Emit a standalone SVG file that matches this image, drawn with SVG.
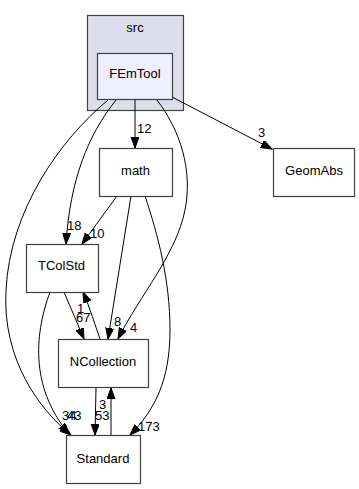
<svg xmlns="http://www.w3.org/2000/svg" width="359" height="489" viewBox="0 0 359 489">
<style>
.node rect{fill:#ffffff;stroke:#404040;stroke-width:1.2}
.lbl{font-family:"Liberation Sans",Arial,sans-serif;font-size:13px;fill:#000000;text-anchor:middle}
.el{font-family:"Liberation Sans",Arial,sans-serif;font-size:13px;fill:#000000}
.edges path{fill:none;stroke:#000000;stroke-width:1;marker-end:url(#arr)}
</style>
<defs>
<marker id="arr" markerUnits="userSpaceOnUse" markerWidth="13" markerHeight="10" refX="11" refY="4" orient="auto">
<path d="M0,0 L11,4 L0,8 z" fill="#000000" stroke="#000000" stroke-width="1"/>
</marker>
</defs>
<rect width="359" height="489" fill="#ffffff"/>
<g id="cluster_src">
<rect x="87.5" y="15.5" width="96" height="95" fill="#ddddee" stroke="#404040" stroke-width="1.2"/>
<text class="lbl" x="135" y="32">src</text>
</g>
<g class="edges" id="edges">
<path d="M135,100 L135,148"/>
<path d="M172,97 L272,149"/>
<path d="M116,100 C88,135 70,180 66,244"/>
<path d="M117,196 L82,244"/>
<path d="M157,100 C180,130 193,170 185,210 C176,255 140,295 118,339"/>
<path d="M131,196 L108,339"/>
<path d="M108,100 C60,140 10,210 6,290 C2,360 40,410 71,435"/>
<path d="M50,292 C36,330 28,385 69,434"/>
<path d="M64,292 L84,339"/>
<path d="M100,339 C95,325 90,308 83,292"/>
<path d="M96,388 L95,435"/>
<path d="M111,435 L111,388"/>
<path d="M145,196 C158,235 170,280 170,330 C170,380 155,410 130,435"/>
<text class="el" x="137" y="133">12</text>
<text class="el" x="258" y="137">3</text>
<text class="el" x="67" y="230">18</text>
<text class="el" x="90" y="238">10</text>
<text class="el" x="77" y="313">1</text>
<text class="el" x="76" y="322">67</text>
<text class="el" x="114" y="326">8</text>
<text class="el" x="130" y="332">4</text>
<text class="el" x="62" y="420">34</text>
<text class="el" x="67" y="420">43</text>
<text class="el" x="99" y="409">3</text>
<text class="el" x="95" y="420">53</text>
<text class="el" x="138" y="431">173</text>
</g>
<g id="node_FEmTool" class="node">
<rect x="97.5" y="53.5" width="75" height="46" style="fill:#eeeeff"/>
<text class="lbl" x="135" y="78">FEmTool</text>
</g>
<g id="node_math" class="node">
<rect x="99.5" y="148.5" width="73" height="48"/>
<text class="lbl" x="135.5" y="175">math</text>
</g>
<g id="node_GeomAbs" class="node">
<rect x="273.5" y="148.5" width="81" height="48"/>
<text class="lbl" x="314" y="175">GeomAbs</text>
</g>
<g id="node_TColStd" class="node">
<rect x="26.5" y="244.5" width="72" height="48"/>
<text class="lbl" x="61.5" y="270">TColStd</text>
</g>
<g id="node_NCollection" class="node">
<rect x="58.5" y="339.5" width="90" height="48"/>
<text class="lbl" x="103" y="366">NCollection</text>
</g>
<g id="node_Standard" class="node">
<rect x="66.5" y="435.5" width="74" height="48"/>
<text class="lbl" x="103" y="463">Standard</text>
</g>
</svg>
